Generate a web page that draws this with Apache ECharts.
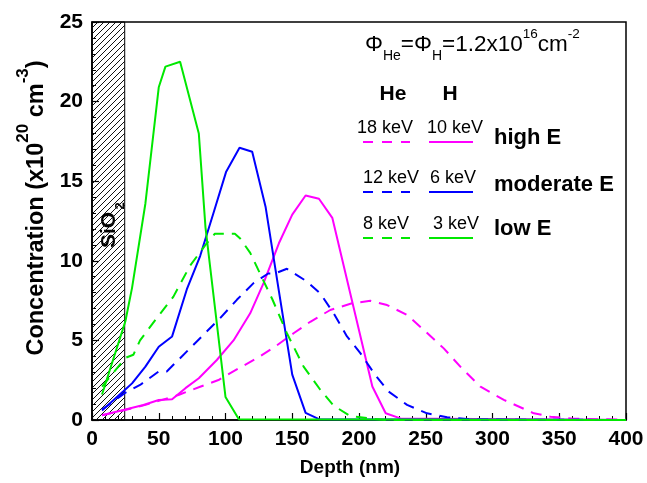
<!DOCTYPE html>
<html><head><meta charset="utf-8">
<script src="https://cdn.jsdelivr.net/npm/echarts@6/dist/echarts.min.js"></script>
<style>html,body{margin:0;padding:0;background:#fff}#c{width:647px;height:483px}</style>
</head><body><div id="c"></div>
<script>
// ---- data (depth in nm, concentration in 1e20 cm^-3) ----
const depthH3 = [7.5, 25, 30, 40, 50, 55, 66, 80, 85, 100, 110, 400];
const concH3  = [1.6, 6.2, 8.3, 13.6, 20.9, 22.2, 22.5, 18.0, 12.1, 1.45, 0.05, 0];

const depthHe8 = [7.5, 25, 31, 36, 48.5, 61, 73.5, 85, 92, 107, 111, 118.5, 127, 135, 146, 158.5, 171, 181, 193.5, 208, 220, 400];
const concHe8  = [2.1, 3.9, 4.1, 5.0, 6.4, 7.75, 9.7, 11.0, 11.7, 11.7, 11.4, 10.5, 9.0, 7.6, 5.45, 3.35, 1.9, 0.9, 0.25, 0.1, 0, 0];

const depthH6 = [7.5, 23.5, 30, 40, 50, 60, 71, 81, 91, 100.5, 110.5, 120, 130, 140, 150, 160, 170, 400];
const concH6  = [0.6, 1.8, 2.3, 3.35, 4.6, 5.25, 8.2, 10.3, 13.0, 15.6, 17.1, 16.85, 13.4, 8.1, 2.85, 0.45, 0.05, 0];

const depthHe12 = [7.5, 24.75, 36, 50, 56, 65, 83.5, 96, 108.5, 121, 132, 137, 146, 161, 171, 181, 191, 201, 212, 222, 236, 251, 266, 285, 400];
const concHe12  = [0.65, 1.7, 2.2, 3.05, 3.05, 3.8, 5.35, 6.4, 7.55, 8.6, 9.2, 9.2, 9.5, 8.7, 7.95, 6.7, 5.25, 4.2, 2.85, 1.8, 0.95, 0.42, 0.17, 0.03, 0];

const depthH10 = [7.5, 23.5, 38.5, 50, 60, 70, 80, 93.5, 106, 118.5, 128.5, 140, 150, 160, 170, 180, 210, 220, 231, 400];
const concH10  = [0.3, 0.63, 0.94, 1.26, 1.3, 2.0, 2.62, 3.77, 5.0, 6.7, 8.6, 11.1, 12.9, 14.1, 13.9, 12.7, 2.1, 0.42, 0.1, 0];

const depthHe18 = [7.5, 24.75, 40, 50, 64.75, 81, 94.75, 110, 123.5, 137, 151, 163.5, 178.5, 194.75, 208.5, 221, 236, 250, 263.5, 277, 291, 308.5, 331, 343.5, 360, 400];
const concHe18  = [0.3, 0.63, 0.95, 1.2, 1.57, 2.09, 2.51, 3.25, 3.88, 4.6, 5.45, 6.17, 6.91, 7.33, 7.49, 7.22, 6.6, 5.55, 4.5, 3.25, 2.09, 1.26, 0.42, 0.21, 0.08, 0.02];

const sio2Depth = 24.5;
const heEnergies = ['18 keV', '12 keV', '8 keV'];
const hEnergies  = ['10 keV', '6 keV', '3 keV'];
const groupNames = ['high E', 'moderate E', 'low E'];
const colors = ['#ff00ff', '#0000ff', '#00e800'];

// ---- hatch pattern ----
const pc = document.createElement('canvas');
pc.width = 6; pc.height = 6;
const g = pc.getContext('2d');
g.strokeStyle = '#111'; g.lineWidth = 1;
g.beginPath();
g.moveTo(0, 6); g.lineTo(6, 0);
g.moveTo(-1, 1); g.lineTo(1, -1);
g.moveTo(5, 7); g.lineTo(7, 5);
g.stroke();

function mk(name, xs, ys, color, dashed) {
  return {
    name, type: 'line', data: xs.map((x, i) => [x, ys[i]]),
    symbol: 'none', showSymbol: false, silent: true, z: 3,
    lineStyle: { color, width: 2, type: dashed ? [11, 8] : 'solid' },
    itemStyle: { color }
  };
}

const chart = echarts.init(document.getElementById('c'), null, { renderer: 'canvas' });
const bold = { fontFamily: 'Liberation Sans, Arial, sans-serif', fontWeight: 'bold', fill: '#000' };
const reg = { fontFamily: 'Liberation Sans, Arial, sans-serif', fill: '#000' };

const graphics = [];
// formula
graphics.push({
  type: 'text', x: 365, y: 45, silent: true,
  style: Object.assign({}, reg, {
    text: '{m|Φ}{sub|He}{m|=Φ}{sub|H}{m|=1.2x10}{sup|16}{m|cm}{sup|-2}',
    align: 'left', verticalAlign: 'middle',
    rich: {
      m: { fontSize: 22.5, lineHeight: 36, verticalAlign: 'middle', fontFamily: 'Liberation Sans, Arial' },
      sub: { fontSize: 14, verticalAlign: 'bottom', fontFamily: 'Liberation Sans, Arial' },
      sup: { fontSize: 13.5, verticalAlign: 'top', fontFamily: 'Liberation Sans, Arial' }
    }
  })
});
// legend headers
graphics.push({ type: 'text', x: 393, y: 94, silent: true, style: Object.assign({}, bold, { text: 'He', fontSize: 21, align: 'center', verticalAlign: 'middle' }) });
graphics.push({ type: 'text', x: 450, y: 94, silent: true, style: Object.assign({}, bold, { text: 'H', fontSize: 21, align: 'center', verticalAlign: 'middle' }) });
const rowY = [128, 178, 224];
const eY = [138, 185, 229];
const heX = [357, 363, 363];
const hX = [427, 430, 433];
for (let i = 0; i < 3; i++) {
  graphics.push({ type: 'text', x: heX[i], y: rowY[i], silent: true, style: Object.assign({}, reg, { text: heEnergies[i], fontSize: 18, align: 'left', verticalAlign: 'middle' }) });
  graphics.push({ type: 'text', x: hX[i], y: rowY[i], silent: true, style: Object.assign({}, reg, { text: hEnergies[i], fontSize: 18, align: 'left', verticalAlign: 'middle' }) });
  graphics.push({ type: 'line', silent: true, shape: { x1: 363, y1: rowY[i] + 14, x2: 410, y2: rowY[i] + 14 }, style: { stroke: colors[i], lineWidth: 2, lineDash: [10, 9] } });
  graphics.push({ type: 'line', silent: true, shape: { x1: 429, y1: rowY[i] + 14, x2: 473, y2: rowY[i] + 14 }, style: { stroke: colors[i], lineWidth: 2 } });
  graphics.push({ type: 'text', x: 494, y: eY[i], silent: true, style: Object.assign({}, bold, { text: groupNames[i], fontSize: 22, align: 'left', verticalAlign: 'middle' }) });
}
// SiO2 label
graphics.push({ type: 'text', x: 109, y: 230, rotation: Math.PI / 2, silent: true, style: Object.assign({}, bold, { text: 'SiO', fontSize: 21, align: 'center', verticalAlign: 'middle' }) });
graphics.push({ type: 'text', x: 120, y: 206, rotation: Math.PI / 2, silent: true, style: Object.assign({}, bold, { text: '2', fontSize: 13, align: 'center', verticalAlign: 'middle' }) });
// axis names
graphics.push({
  type: 'text', x: 37, y: 208, rotation: Math.PI / 2, silent: true,
  style: Object.assign({}, bold, {
    text: '{m|Concentration (x10}{sup|20}{m| cm}{sup|-3}{m|)}',
    align: 'center', verticalAlign: 'middle',
    rich: {
      m: { fontSize: 23.5, lineHeight: 44, verticalAlign: 'middle', fontWeight: 'bold', fontFamily: 'Liberation Sans, Arial' },
      sup: { fontSize: 17, verticalAlign: 'top', fontWeight: 'bold', fontFamily: 'Liberation Sans, Arial' }
    }
  })
});
graphics.push({ type: 'text', x: 350, y: 468, silent: true, style: Object.assign({}, bold, { text: 'Depth (nm)', fontSize: 19, align: 'center', verticalAlign: 'middle' }) });

const axisCommon = {
  axisLine: { show: true, lineStyle: { color: '#000', width: 1.5 } },
  axisTick: { show: true, inside: true, length: 7, lineStyle: { color: '#000', width: 1.2 } },
  minorTick: { show: true, splitNumber: 5, length: 4, lineStyle: { color: '#000', width: 1 } },
  splitLine: { show: false },
  axisLabel: { color: '#000', fontWeight: 'bold', fontSize: 21, fontFamily: 'Liberation Sans, Arial, sans-serif', margin: 9 }
};

chart.setOption({
  animation: false,
  backgroundColor: '#fff',
  grid: { left: 92, right: 21, top: 22, bottom: 63, show: true, borderColor: '#000', borderWidth: 1.5, backgroundColor: 'transparent' },
  xAxis: Object.assign({ type: 'value', min: 0, max: 400, interval: 50 }, axisCommon),
  yAxis: Object.assign({ type: 'value', min: 0, max: 25, interval: 5 }, axisCommon),
  series: [
    {
      type: 'line', data: [], silent: true, z: 1,
      markArea: {
        silent: true,
        itemStyle: { color: { image: pc, repeat: 'repeat' }, borderColor: '#000', borderWidth: 1 },
        data: [[{ xAxis: 0 }, { xAxis: sio2Depth }]]
      }
    },
    mk('He 18 keV', depthHe18, concHe18, colors[0], true),
    mk('H 10 keV', depthH10, concH10, colors[0], false),
    mk('He 12 keV', depthHe12, concHe12, colors[1], true),
    mk('H 6 keV', depthH6, concH6, colors[1], false),
    mk('He 8 keV', depthHe8, concHe8, colors[2], true),
    mk('H 3 keV', depthH3, concH3, colors[2], false)
  ],
  graphic: graphics
});
</script>
</body></html>
